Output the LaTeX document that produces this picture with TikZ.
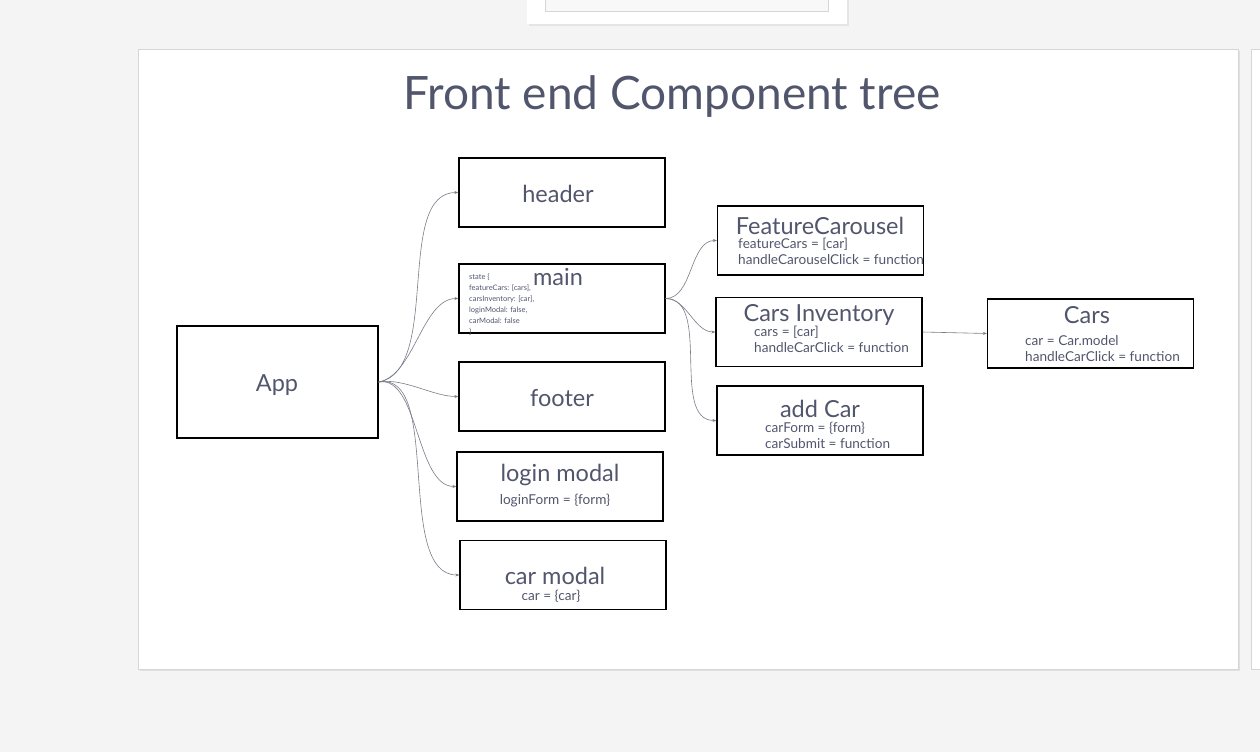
\documentclass[tikz,border=0pt]{standalone}
\usepackage{fontspec}
\setmainfont{Lato}
\usetikzlibrary{arrows.meta,positioning}
\definecolor{ink}{HTML}{52566D}
\definecolor{wire}{HTML}{7A7C88}
\definecolor{canvas}{HTML}{F4F4F4}
\definecolor{frame}{HTML}{D6D6D6}

\begin{document}
\begin{tikzpicture}[
  x=1pt,y=-1pt,
  comp/.style={draw=black,line width=1.3pt,fill=white,minimum width=206pt,
    minimum height=69pt,inner sep=0pt,text=ink,font=\fontsize{23.5}{26}\selectfont},
  compname/.style={text=ink,inner sep=0pt,font=\fontsize{23.5}{26}\selectfont},
  props/.style={text=ink,inner sep=0pt,align=left,anchor=north west,
    font=\fontsize{13.6}{16}\selectfont},
  wireto/.style={-{Stealth[length=4pt,width=3pt]},draw=wire,line width=.6pt}
]
% page, slide and the neighbouring cards
\useasboundingbox (0,0) rectangle (1260,752);
\fill[canvas] (0,0) rectangle (1260,752);
\fill[black!10] (529,0) rectangle (849,26);
\fill[white] (527,0) rectangle (847,24);
\draw[frame,fill=canvas!60] (545,-1) rectangle (828,11);
\fill[black!12] (140,51) rectangle (1240,671);
\draw[frame,fill=white] (138,49) rectangle (1238,669);
\draw[frame,fill=white] (1251,49) rectangle (1262,669);

\node[text=ink,inner sep=0pt,font=\fontsize{46}{50}\selectfont] (title) at (672,97)
  {Front end Component tree};

% first level
\node[comp,minimum width=201pt,minimum height=112pt] (app) at (277.5,382) {};
\node[compname] (appname) at (277,385) {App};
\node[comp] (header) at (562,192.5) {};
\node[compname] (headername) at (558,194) {header};
\node[comp] (main) at (562,298.5) {};
\node[comp] (footer) at (562,396.5) {};
\node[compname] (footername) at (562,398) {footer};
\node[comp] (login) at (560,486.5) {};
\node[comp] (carmodal) at (563,575) {};

\node[compname] (mainname) at (558,277) {main};
\node[text=ink,inner sep=0pt,align=left,anchor=north west,
  font=\fontsize{7.5}{11}\selectfont] (mainstate) at (469,274)
  {state \{\\featureCars: [cars],\\carsInventory: [car],\\loginModal: false,\\carModal: false\\\}};
\node[compname] (loginname) at (560,475) {login modal};
\node[props,anchor=center] (loginprops) at (555,501) {loginForm = \{form\}};
\node[compname] (carmodalname) at (555,576) {car modal};
\node[props,anchor=center] (carmodalprops) at (551,596) {car = \{car\}};

% second level
\node[comp] (carousel) at (820.5,240.5) {};
\node[comp] (inventory) at (819,332) {};
\node[comp] (addcar) at (820,420.5) {};
\node[comp] (cars) at (1090.5,333.5) {};

\node[compname] (carouselname) at (820,226) {FeatureCarousel};
\node[props] (carouselprops) at (738,238) {featureCars = [car]\\handleCarouselClick = function};
\node[compname] (inventoryname) at (819,315) {Cars Inventory};
\node[props] (inventoryprops) at (754,326) {cars = [car]\\handleCarClick = function};
\node[compname] (addcarname) at (820,409) {add Car};
\node[props] (addcarprops) at (765,422) {carForm = \{form\}\\carSubmit = function};
\node[compname] (carsname) at (1087,315) {Cars};
\node[props] (carsprops) at (1025,335) {car = Car.model\\handleCarClick = function};

% connectors
\foreach \kid in {header,main,footer,login,carmodal}
  \draw[wireto] (app.east) to[out=10,in=180,looseness=.8] (\kid.west);
\foreach \kid in {carousel,inventory,addcar}
  \draw[wireto] (main.east) to[out=0,in=180,looseness=.9] (\kid.west);
\draw[wireto] (inventory.east) -- (cars.west);
\end{tikzpicture}
\end{document}
